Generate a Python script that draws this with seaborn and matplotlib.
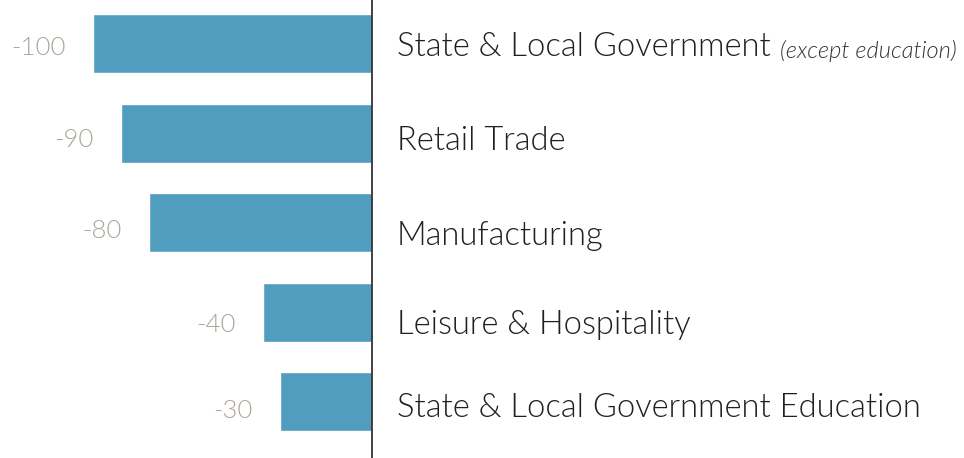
import matplotlib
matplotlib.use("Agg")
import matplotlib.pyplot as plt
import seaborn as sns
import pandas as pd

# Chart data (bar lengths, labels as printed)
categories = ["State & Local Government", "Retail Trade", "Manufacturing",
              "Leisure & Hospitality", "State & Local Government Education"]
values = [-100, -90, -80, -39, -33]
value_labels = ["-100", "-90", "-80", "-40", "-30"]
notes = ["(except education)", "", "", "", ""]

# Layout: hand-placed label baselines (pixels below bar centre)
name_drop = [12.5, 16.5, 22.5, 21.5, 15]
value_drop = [11.5, 13.5, 15.5, 19.5, 16]

bar_color = "#519dbf"
label_gray = "#aca698"
text_dark = "#231f20"

sns.set_theme(style="white")
plt.rcParams["font.family"] = ["Lato", "DejaVu Sans"]

df = pd.DataFrame({"category": categories, "value": values})

fig = plt.figure(figsize=(9.64, 4.58), dpi=100)
ax = fig.add_axes([0, 0, 1, 1])

sns.barplot(data=df, x="value", y="category", orient="h", color=bar_color,
            saturation=1, width=0.66, ax=ax)

ax.set_xlim(-133.3, 212.2)
ax.set_ylim(4.626, -0.4855)
ax.axvline(0, color="#333333", linewidth=1.3)

for i, (v, lab, cat, note) in enumerate(zip(values, value_labels, categories, notes)):
    ax.annotate(lab, xy=(v, i), xytext=(-27, -value_drop[i]), textcoords="offset pixels",
                ha="right", va="baseline", fontsize=18.5, color=label_gray,
                fontweight=300)
    t = ax.annotate(cat, xy=(0, i), xytext=(25, -name_drop[i]), textcoords="offset pixels",
                    ha="left", va="baseline", fontsize=23.6, color=text_dark,
                    fontweight=300)
    if note:
        ax.annotate(note, xy=(1, 0), xycoords=t, xytext=(9, 0),
                    textcoords="offset pixels", ha="left", va="bottom",
                    fontsize=17, style="italic", color="#333333",
                    fontweight=300)

ax.set_xlabel("")
ax.set_ylabel("")
ax.set_xticks([])
ax.set_yticks([])
sns.despine(ax=ax, left=True, bottom=True)

fig.savefig("out.png", dpi=100)
